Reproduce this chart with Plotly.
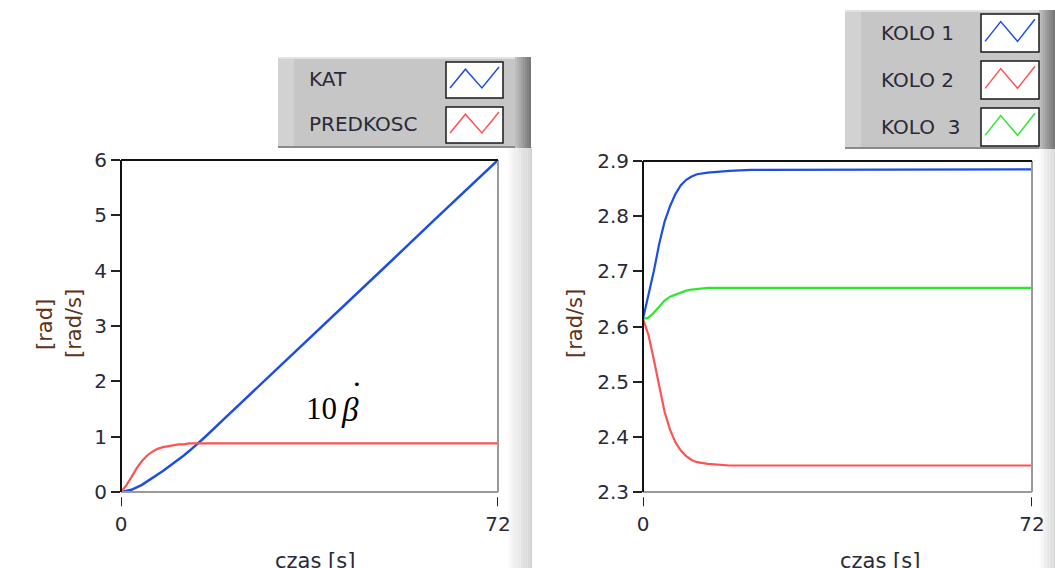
import plotly.graph_objects as go

# ---------------- data ----------------
t_red = [0, 1, 2, 3, 4, 5, 6, 7, 8, 9, 10, 11, 12, 13, 14, 72]
predkosc = [0, 0.12, 0.27, 0.43, 0.56, 0.66, 0.73, 0.78, 0.81, 0.83, 0.85, 0.86, 0.86, 0.88, 0.88, 0.88]

t_blue = [0, 2, 4, 6, 8, 10, 12, 14, 16, 20, 30, 40, 50, 60, 72]
kat = [0, 0.04, 0.13, 0.25, 0.38, 0.52, 0.66, 0.82, 0.99, 1.35, 2.24, 3.13, 4.03, 4.93, 6.0]

t_kolo = [0, 1, 2, 3, 4, 5, 6, 7, 8, 9, 10, 12, 14, 16, 20, 72]
kolo1 = [2.614, 2.655, 2.700, 2.750, 2.790, 2.818, 2.840, 2.856, 2.866, 2.872, 2.876, 2.879, 2.881, 2.882, 2.884, 2.885]
kolo2 = [2.614, 2.585, 2.540, 2.490, 2.445, 2.413, 2.390, 2.375, 2.365, 2.358, 2.354, 2.351, 2.349, 2.348, 2.348, 2.348]
kolo3 = [2.614, 2.616, 2.625, 2.637, 2.647, 2.654, 2.658, 2.662, 2.665, 2.667, 2.668, 2.670, 2.670, 2.670, 2.670, 2.670]

left_yticks = [0, 1, 2, 3, 4, 5, 6]
right_yticks = [2.3, 2.4, 2.5, 2.6, 2.7, 2.8, 2.9]
xticks = [0, 72]
left_names = ["KAT", "PREDKOSC"]
right_names = ["KOLO 1", "KOLO 2", "KOLO  3"]

BLUE = "#1d4ee0"
RED = "#ff5252"
GREEN = "#2ee62e"
W, H = 1055, 568
FONT = "DejaVu Sans"
TXT = "#2a2a38"
TITLE_C = "#5e3318"


def px(x):
    return x / W


def py(y):
    return 1 - y / H


fig = go.Figure()
fig.add_trace(go.Scatter(x=t_blue, y=kat, mode="lines", line=dict(color=BLUE, width=2.5),
                         xaxis="x", yaxis="y", showlegend=False))
fig.add_trace(go.Scatter(x=t_red, y=predkosc, mode="lines", line=dict(color=RED, width=2.2),
                         xaxis="x", yaxis="y", showlegend=False))
fig.add_trace(go.Scatter(x=t_kolo, y=kolo1, mode="lines", line=dict(color=BLUE, width=2.2),
                         xaxis="x2", yaxis="y2", showlegend=False))
fig.add_trace(go.Scatter(x=t_kolo, y=kolo2, mode="lines", line=dict(color=RED, width=2.2),
                         xaxis="x2", yaxis="y2", showlegend=False))
fig.add_trace(go.Scatter(x=t_kolo, y=kolo3, mode="lines", line=dict(color=GREEN, width=2.2),
                         xaxis="x2", yaxis="y2", showlegend=False))

xcommon = dict(range=[0, 72], tickvals=xticks, ticks="outside", ticklen=14,
               tickcolor="rgba(0,0,0,0)", showgrid=False, zeroline=False, showline=False,
               tickfont=dict(family=FONT, size=20, color=TXT), fixedrange=True, automargin=False)
ycommon = dict(ticks="outside", ticklen=9, tickwidth=2, tickcolor="#222", showgrid=False,
               zeroline=False, showline=False, tickfont=dict(family=FONT, size=20, color=TXT),
               fixedrange=True, automargin=False)

fig.update_layout(
    width=W, height=H, autosize=False, margin=dict(l=0, r=0, t=0, b=0, pad=0),
    paper_bgcolor="white", plot_bgcolor="white", showlegend=False,
    xaxis=dict(domain=[px(121), px(498)], anchor="y", **xcommon),
    yaxis=dict(domain=[py(492), py(160)], anchor="x", range=[0, 6], tickvals=left_yticks, **ycommon),
    xaxis2=dict(domain=[px(643), px(1032)], anchor="y2", **xcommon),
    yaxis2=dict(domain=[py(492), py(161)], anchor="x2", range=[2.3, 2.9], tickvals=right_yticks,
                tickformat=".1f", **ycommon),
)

shapes = []
annos = []

# plot frames
for xa, ya in (("x", "y"), ("x2", "y2")):
    xr, yr = xa + " domain", ya + " domain"
    shapes.append(dict(type="line", xref=xr, yref=yr, x0=0, x1=1, y0=0, y1=0, line=dict(color="#9a9a9a", width=2)))
    shapes.append(dict(type="line", xref=xr, yref=yr, x0=1, x1=1, y0=0, y1=1, line=dict(color="#9a9a9a", width=2)))
    shapes.append(dict(type="line", xref=xr, yref=yr, x0=0, x1=1, y0=1, y1=1, line=dict(color="#111", width=2)))
    shapes.append(dict(type="line", xref=xr, yref=yr, x0=0, x1=0, y0=0, y1=1, line=dict(color="#111", width=2)))
    for tv in xticks:
        shapes.append(dict(type="line", xref=xa, yref=yr, x0=tv, x1=tv, y0=-0.016, y1=-0.043,
                           line=dict(color="#222", width=2)))


def strip(x0, x1, y0, y1, c0, c1, n=12):
    for i in range(n):
        f = i / (n - 1)
        r = int(c0 + (c1 - c0) * f)
        col = f"rgb({r},{r},{r})"
        xa = x0 + (x1 - x0) * i / n
        xb = x0 + (x1 - x0) * (i + 1) / n
        shapes.append(dict(type="rect", xref="paper", yref="paper", x0=px(xa), x1=px(xb),
                           y0=py(y1), y1=py(y0), line=dict(width=0), fillcolor=col, layer="below"))


strip(505, 532, 147, 568, 255, 212)
strip(1038, 1055, 148, 568, 255, 215)


def legend_box(x0, x1, y0, y1):
    shapes.append(dict(type="rect", xref="paper", yref="paper", x0=px(x0), x1=px(x1),
                       y0=py(y1), y1=py(y0), line=dict(width=0), fillcolor="#c6c6c6"))
    shapes.append(dict(type="rect", xref="paper", yref="paper", x0=px(x0), x1=px(x0 + 16),
                       y0=py(y1), y1=py(y0), line=dict(width=0), fillcolor="#d2d2d2"))
    shapes.append(dict(type="line", xref="paper", yref="paper", x0=px(x0), x1=px(x1),
                       y0=py(y0 + 1), y1=py(y0 + 1), line=dict(color="#e2e2e2", width=2)))
    shapes.append(dict(type="line", xref="paper", yref="paper", x0=px(x0), x1=px(x1),
                       y0=py(y1 - 1), y1=py(y1 - 1), line=dict(color="#8a8a8a", width=2)))
    n = 8
    for i in range(n):
        r = int(190 - 70 * i / (n - 1))
        xa = x1 - 16 + 16 * i / n
        xb = x1 - 16 + 16 * (i + 1) / n
        shapes.append(dict(type="rect", xref="paper", yref="paper", x0=px(xa), x1=px(xb),
                           y0=py(y1), y1=py(y0), line=dict(width=0), fillcolor=f"rgb({r},{r},{r})"))


def swatch(x0, x1, y0, y1, color):
    shapes.append(dict(type="rect", xref="paper", yref="paper", x0=px(x0), x1=px(x1),
                       y0=py(y1), y1=py(y0), line=dict(color="#1a1a1a", width=1.5), fillcolor="white"))
    w = x1 - x0
    h = y1 - y0
    pts = [(x0 + 0.07 * w, y0 + 0.72 * h), (x0 + 0.34 * w, y0 + 0.2 * h),
           (x0 + 0.63 * w, y0 + 0.72 * h), (x0 + 0.93 * w, y0 + 0.14 * h)]
    path = "M " + " L ".join(f"{px(a)},{py(b)}" for a, b in pts)
    shapes.append(dict(type="path", xref="paper", yref="paper", path=path,
                       line=dict(color=color, width=1.5)))


legend_box(278, 531, 57, 148)
for i, (name, col) in enumerate(zip(left_names, [BLUE, RED])):
    y0 = 62 + i * 45
    swatch(446, 503, y0, y0 + 36, col)
    annos.append(dict(x=px(307), y=py(y0 + 17), xref="paper", yref="paper", text=name, showarrow=False,
                      xanchor="left", yanchor="middle", font=dict(family=FONT, size=20, color=TXT)))

legend_box(845, 1055, 10, 149)
for i, (name, col) in enumerate(zip(right_names, [BLUE, RED, GREEN])):
    y0 = 14 + i * 47
    swatch(981, 1039, y0, y0 + 38, col)
    annos.append(dict(x=px(879), y=py(y0 + 19), xref="paper", yref="paper", text=name, showarrow=False,
                      xanchor="left", yanchor="middle", font=dict(family=FONT, size=20, color=TXT)))


def label(x, y, text, size, color, angle=0, family=FONT):
    annos.append(dict(x=px(x), y=py(y), xref="paper", yref="paper", text=text, textangle=angle,
                      xanchor="center", yanchor="middle", showarrow=False,
                      font=dict(family=family, size=size, color=color)))


label(45, 325, "[rad]", 21, TITLE_C, -90)
label(74, 324, "[rad/s]", 21, TITLE_C, -90)
label(575, 324, "[rad/s]", 21, TITLE_C, -90)
label(315, 561, "czas [s]", 21, TXT)
label(880, 561, "czas [s]", 21, TXT)
label(321, 408, "10", 31, "black", family="Liberation Serif")
label(350, 410, "<i>β</i>", 33, "black", family="Liberation Serif")
label(357, 384, "•", 13, "black", family="DejaVu Sans")

fig.update_layout(shapes=shapes, annotations=annos)
fig.write_html("out.html", config={"displayModeBar": False},
               post_script="document.body.style.margin='0';")
